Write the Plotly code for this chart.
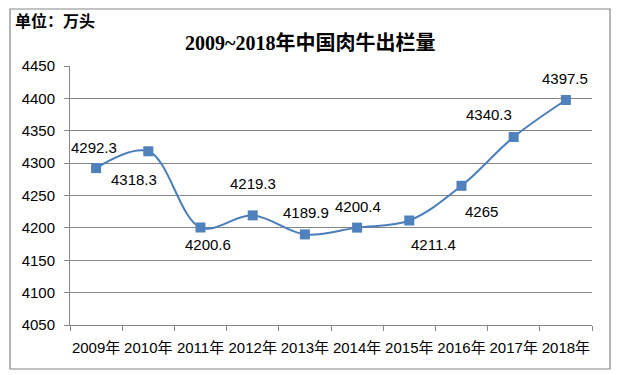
import plotly.graph_objects as go

# ---- data ----
years = ["2009年", "2010年", "2011年", "2012年", "2013年", "2014年", "2015年", "2016年", "2017年", "2018年"]
values = [4292.3, 4318.3, 4200.6, 4219.3, 4189.9, 4200.4, 4211.4, 4265, 4340.3, 4397.5]
value_labels = ["4292.3", "4318.3", "4200.6", "4219.3", "4189.9", "4200.4", "4211.4", "4265", "4340.3", "4397.5"]
y_ticks = [4050, 4100, 4150, 4200, 4250, 4300, 4350, 4400, 4450]

title_text = "2009~2018年中国肉牛出栏量"
unit_text = "单位：万头"

# ---- layout / styling ----
W, H = 621, 375
L, R, T, B = 70, 29, 66, 50
label_shifts = [(-2, 21), (-14, -28), (7, -17), (0, 32), (1, 22),
                (1, 21), (24, -24), (20, -26), (-25, 23), (-1, 21)]

line_color = "#4A7EBB"
marker_color = "#4F81BD"
grid_color = "#868686"
sans = "Liberation Sans, Arial, Noto Sans CJK SC, sans-serif"
serif = "Liberation Serif, Times New Roman, Noto Sans CJK SC, serif"

fig = go.Figure()
fig.add_trace(go.Scatter(
    x=years, y=values, mode="lines+markers",
    line=dict(color=line_color, width=2, shape="spline", smoothing=1.0),
    marker=dict(symbol="square", size=10, color=marker_color,
                line=dict(width=0)),
    hoverinfo="skip", showlegend=False,
))

for xv, yv, txt, (dx, dy) in zip(years, values, value_labels, label_shifts):
    fig.add_annotation(x=xv, y=yv, text=txt, showarrow=False,
                       xshift=dx, yshift=dy,
                       font=dict(family=sans, size=15, color="#000000"))

pw = W - L - R
ph = H - T - B

def px_to_paper_x(px):
    return (px - L) / pw

def px_to_paper_y(py):
    return (H - B - py) / ph

# chart border
fig.add_shape(type="rect", xref="paper", yref="paper",
              x0=px_to_paper_x(10), x1=px_to_paper_x(610),
              y0=px_to_paper_y(369), y1=px_to_paper_y(9),
              line=dict(color="#868686", width=1.2), fillcolor="rgba(0,0,0,0)",
              layer="below")

fig.add_annotation(xref="paper", yref="paper",
                   x=px_to_paper_x(13), y=px_to_paper_y(20),
                   xanchor="left", yanchor="middle", showarrow=False,
                   text="<b>" + unit_text + "</b>",
                   font=dict(family="Noto Sans CJK SC, sans-serif", size=16, color="#000000"))

fig.add_annotation(xref="paper", yref="paper",
                   x=px_to_paper_x(310), y=px_to_paper_y(43),
                   xanchor="center", yanchor="middle", showarrow=False,
                   text="<b>" + title_text + "</b>",
                   font=dict(family=serif, size=20, color="#000000"))

fig.update_layout(
    width=W, height=H, autosize=False,
    margin=dict(l=L, r=R, t=T, b=B, pad=0),
    paper_bgcolor="white", plot_bgcolor="white",
    xaxis=dict(
        type="category", categoryorder="array", categoryarray=years,
        range=[-0.5, len(years) - 0.5],
        showgrid=False, zeroline=False,
        showline=True, linecolor=grid_color, linewidth=1,
        ticks="outside", tickson="boundaries", ticklen=5, tickcolor=grid_color,
        tickangle=0, automargin=False,
        tickfont=dict(family=sans, size=15, color="#000000"),
        ticklabelstandoff=9,
        fixedrange=True,
    ),
    yaxis=dict(
        range=[4050, 4450], tickvals=y_ticks,
        ticktext=[str(v) for v in y_ticks],
        showgrid=True, gridcolor=grid_color, gridwidth=1,
        zeroline=False, automargin=False,
        showline=True, linecolor=grid_color, linewidth=1,
        ticks="outside", ticklen=5, tickcolor=grid_color,
        tickfont=dict(family=sans, size=15, color="#000000"),
        ticklabelstandoff=6,
        fixedrange=True,
    ),
)

fig.write_html("out.html", config={"displayModeBar": False},
               post_script="document.body.style.margin='0';document.body.style.padding='0';")
